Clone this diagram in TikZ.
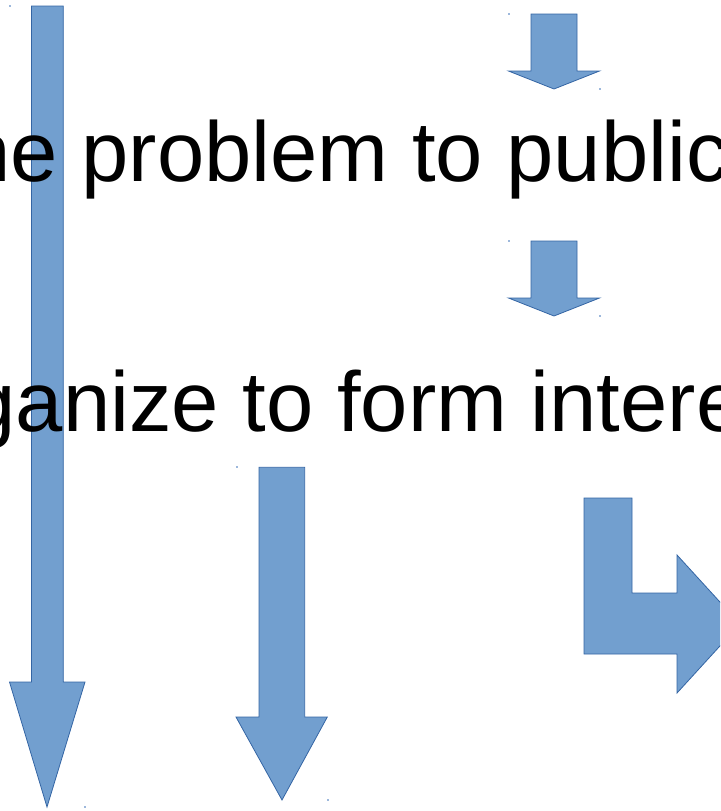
\documentclass[tikz,border=0pt]{standalone}
\usepackage{fontspec}
\setmainfont{Liberation Sans}
\definecolor{arrowfill}{HTML}{729FCF}
\definecolor{arrowline}{HTML}{3465A4}
\definecolor{handlemark}{HTML}{9DB8DC}
\begin{document}
\begin{tikzpicture}[x=1pt,y=-1pt,
  blockarrow/.style={fill=arrowfill, draw=arrowline, line width=0.8pt, line join=miter},
  bigtext/.style={font=\fontsize{85}{100}\selectfont, inner sep=0pt, anchor=base west, text=black},
  handle/.style={fill=handlemark, draw=none}]
\useasboundingbox (0,0) rectangle (720,811);
\clip (0,0) rectangle (720,811);

% long arrow on the left, running behind both text lines
\draw[blockarrow] (31.5,6) -- (63.3,6) -- (63.3,682) -- (85,682) -- (47,807)
  -- (9.5,682) -- (31.5,682) -- cycle;

% short arrow above the first line
\draw[blockarrow] (531,14) -- (577,14) -- (577,71) -- (599.5,71) -- (554,89)
  -- (508.5,71) -- (531,71) -- cycle;

% short arrow between the two lines
\draw[blockarrow] (531,241) -- (577,241) -- (577,298) -- (599.5,298) -- (554,316)
  -- (508.5,298) -- (531,298) -- cycle;

% middle arrow below the second line
\draw[blockarrow] (259,467.3) -- (304.7,467.3) -- (304.7,717) -- (327.3,717) -- (282,800)
  -- (236,717) -- (259,717) -- cycle;

% bent arrow turning to the right
\draw[blockarrow] (584,498) -- (632,498) -- (632,593) -- (677,593) -- (677,555)
  -- (740,624) -- (677,693) -- (677,654) -- (584,654) -- cycle;

% small corner marks of the arrow frames
\foreach \p in {(10,6),(85,807),(509,14),(600,89),(509,241),(600,316),(237,467),(328,800)}
  \fill[handle] \p ++(-0.8,-0.8) rectangle ++(1.6,1.6);

% text lines
\node[bigtext] (lineone) at (-36.8,181) {he problem to public};
\node[bigtext] (linetwo) at (-31.5,431) {ganize to form intere};
\end{tikzpicture}
\end{document}
